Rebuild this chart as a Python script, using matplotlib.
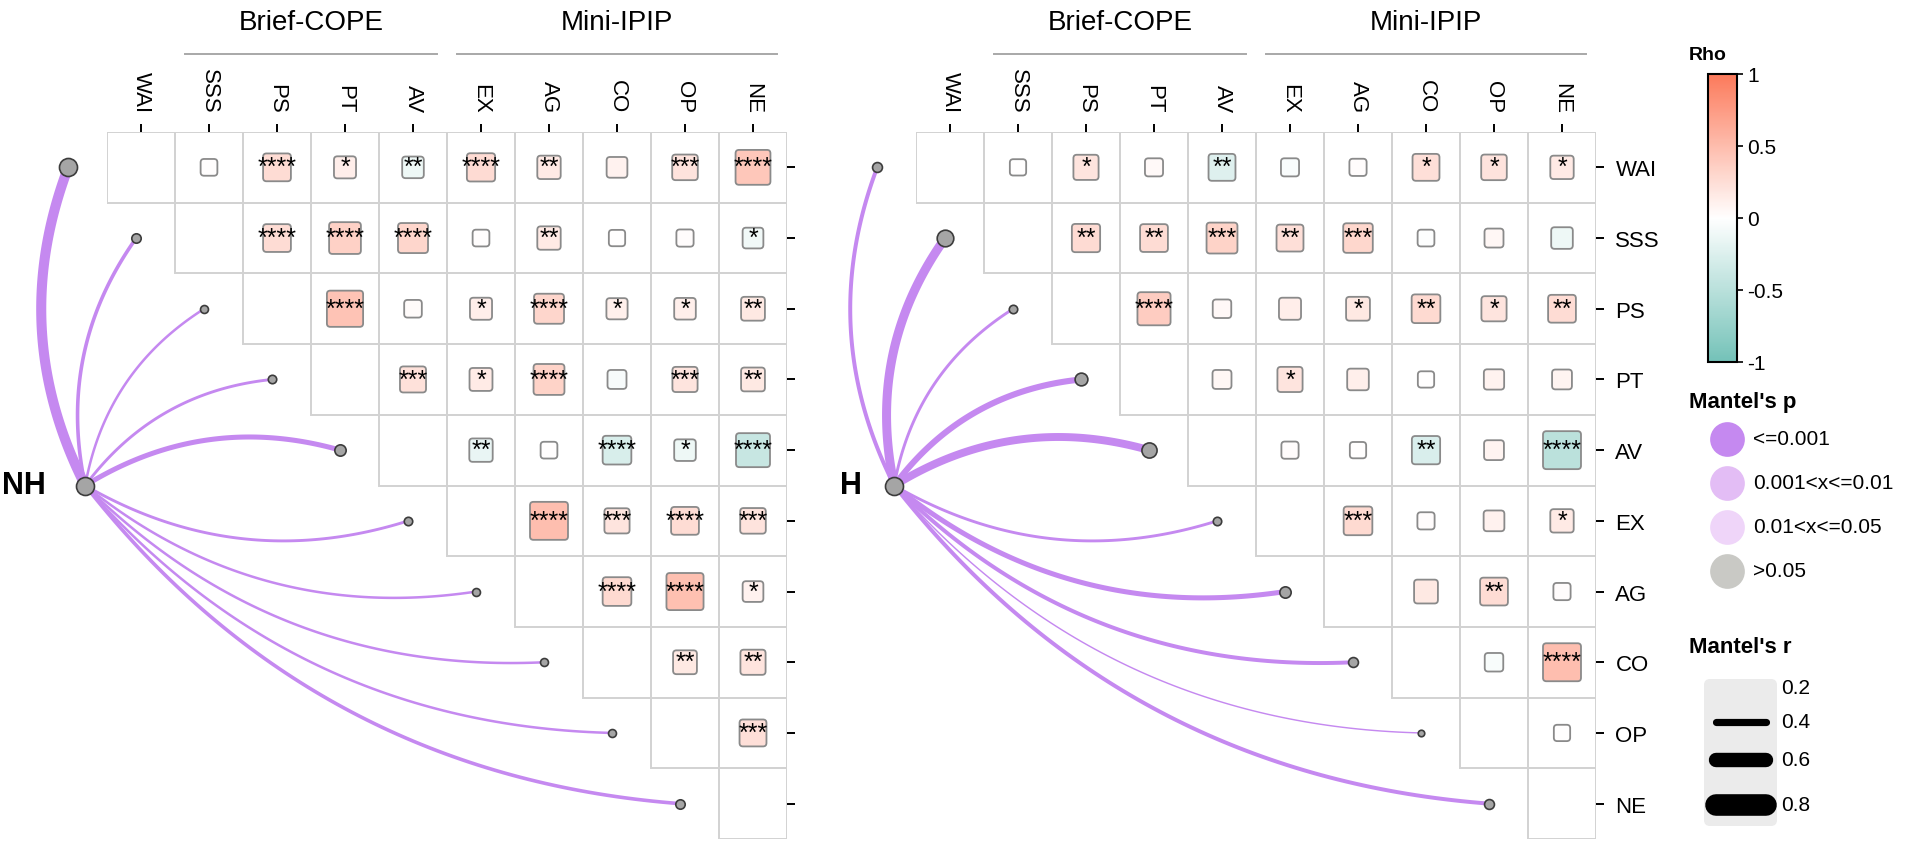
import numpy as np
import matplotlib.pyplot as plt
from matplotlib.colors import LinearSegmentedColormap, Normalize
from matplotlib.patches import Rectangle, FancyBboxPatch
import matplotlib.colorbar as mcolorbar

plt.rcParams['font.family'] = ['Liberation Sans', 'DejaVu Sans']

VARS = ["WAI", "SSS", "PS", "PT", "AV", "EX", "AG", "CO", "OP", "NE"]
GROUPS = [("Brief-COPE", 1, 4), ("Mini-IPIP", 5, 9)]

# upper triangle, row i holds columns i+1 .. 9
NH_RHO = [
    [0.01, 0.26, 0.13, -0.12, 0.27, 0.16, 0.10, 0.21, 0.42],
    [0.26, 0.35, 0.31, 0.01, 0.16, 0.00, 0.02, -0.10],
    [0.45, 0.03, 0.13, 0.31, 0.11, 0.12, 0.17],
    [0.22, 0.15, 0.33, -0.06, 0.20, 0.17],
    [-0.16, 0.01, -0.28, -0.12, -0.40],
    [0.49, 0.20, 0.26, 0.21],
    [0.28, 0.47, 0.10],
    [0.17, 0.20],
    [0.24],
]
NH_STARS = [
    ["", "****", "*", "**", "****", "**", "", "***", "****"],
    ["****", "****", "****", "", "**", "", "", "*"],
    ["****", "", "*", "****", "*", "*", "**"],
    ["***", "*", "****", "", "***", "**"],
    ["**", "", "****", "*", "****"],
    ["****", "***", "****", "***"],
    ["****", "****", "*"],
    ["**", "**"],
    ["***"],
]
H_RHO = [
    [0.00, 0.20, 0.04, -0.24, -0.04, 0.02, 0.24, 0.21, 0.16],
    [0.27, 0.26, 0.33, 0.24, 0.30, -0.01, 0.06, -0.12],
    [0.38, 0.05, 0.13, 0.17, 0.28, 0.20, 0.26],
    [0.06, 0.20, 0.12, 0.00, 0.09, 0.08],
    [0.02, 0.00, -0.27, 0.08, -0.49],
    [0.28, 0.02, 0.10, 0.16],
    [0.17, 0.26, 0.02],
    [-0.05, 0.49],
    [0.00],
]
H_STARS = [
    ["", "*", "", "**", "", "", "*", "*", "*"],
    ["**", "**", "***", "**", "***", "", "", ""],
    ["****", "", "", "*", "**", "*", "**"],
    ["", "*", "", "", "", ""],
    ["", "", "**", "", "****"],
    ["***", "", "", "*"],
    ["", "**", ""],
    ["", "****"],
    [""],
]

# Mantel test of each variable against group (NH / H)
NH_MANTEL_R = [0.48, 0.30, 0.27, 0.28, 0.34, 0.28, 0.27, 0.27, 0.27, 0.30]
NH_MANTEL_P = ["<=0.001"] * 10
H_MANTEL_R = [0.31, 0.45, 0.28, 0.37, 0.42, 0.28, 0.34, 0.31, 0.24, 0.31]
H_MANTEL_P = ["<=0.001"] * 10

P_LEVELS = ["<=0.001", "0.001<x<=0.01", "0.01<x<=0.05", ">0.05"]
P_COLORS = ["#C589F0", "#E3BDF5", "#EFD5F9", "#C9C9C5"]
R_LEVELS = [0.2, 0.4, 0.6, 0.8]

CMAP = LinearSegmentedColormap.from_list("rho", ["#74C2B8", "#FFFFFF", "#FC7A5B"])
NORM = Normalize(-1, 1)

FIG_W, FIG_H = 1908, 845
CELL_W, CELL_H = 68.0, 70.7
GRID_TOP = 133
NODE_POS = (-0.32, 5.0)


def r_to_px(r):
    # line width in pixels for a Mantel's r value
    return 36 * (r - 0.2)


def dot_px(r):
    return 48 * r - 5


fig = plt.figure(figsize=(FIG_W / 100, FIG_H / 100), dpi=100)

# pixel-space axes for the legends
leg = fig.add_axes([0, 0, 1, 1])
leg.set_xlim(0, FIG_W)
leg.set_ylim(FIG_H, 0)
leg.axis('off')


def draw_panel(left_px, rho_rows, star_rows, mantel_r, mantel_p, tag, tag_x, row_labels):
    n = len(VARS)
    ax = fig.add_axes([left_px / FIG_W, (FIG_H - GRID_TOP - n * CELL_H) / FIG_H,
                       n * CELL_W / FIG_W, n * CELL_H / FIG_H])
    ax.set_xlim(0, n)
    ax.set_ylim(n, 0)
    ax.patch.set_visible(False)
    for s in ax.spines.values():
        s.set_visible(False)
    ax.xaxis.tick_top()
    ax.set_xticks(np.arange(n) + 0.5)
    ax.set_xticklabels(VARS, rotation=-90, fontsize=16)
    ax.yaxis.tick_right()
    ax.set_yticks(np.arange(n) + 0.5)
    ax.set_yticklabels(VARS if row_labels else [], fontsize=16)
    ax.tick_params(length=6, width=1.4, pad=8)

    asp = CELL_H / CELL_W
    # grid + squares
    for i in range(n):
        for j in range(i, n):
            ax.add_patch(Rectangle((j, i), 1, 1, fill=False, ec='#D2D2D2', lw=1.4, zorder=1))
        if i == n - 1:
            continue
        for k, (r, st) in enumerate(zip(rho_rows[i], star_rows[i])):
            j = i + 1 + k
            side = 0.24 + 0.65 * abs(r)
            w, h = side, side / asp
            ax.add_patch(FancyBboxPatch((j + 0.5 - w / 2, i + 0.5 - h / 2), w, h,
                                        boxstyle="round,pad=0,rounding_size=0.05",
                                        mutation_aspect=1 / asp,
                                        fc=CMAP(NORM(r)), ec='#8A8A8A', lw=1.3, zorder=2))
            if st:
                ax.text(j + 0.5, i + 0.5, st, ha='center', va='center', fontsize=18, zorder=3)

    # group headers
    for name, c0, c1 in GROUPS:
        ax.plot([c0 + 0.15, c1 + 0.85], [-1.1, -1.1], color='#A8A8A8', lw=1.4, clip_on=False)
        ax.text((c0 + c1 + 1) / 2, -1.55, name, ha='center', va='center', fontsize=20)

    # mantel links
    nx, ny = NODE_POS
    for i in range(n):
        ex, ey = i - 0.57, i + 0.5
        p0 = np.array([nx, ny * asp])
        p1 = np.array([ex, ey * asp])
        d = p1 - p0
        sgn = 1 if ey < ny else -1
        ctrl = (p0 + p1) / 2 + sgn * 0.22 * np.array([d[1], -d[0]])
        t = np.linspace(0, 1, 80)[:, None]
        b = (1 - t) ** 2 * p0 + 2 * (1 - t) * t * ctrl + t ** 2 * p1
        col = P_COLORS[P_LEVELS.index(mantel_p[i])]
        ax.plot(b[:, 0], b[:, 1] / asp, color=col, lw=r_to_px(mantel_r[i]) * 0.72,
                solid_capstyle='butt', clip_on=False, zorder=4)
        ax.plot(ex, ey, 'o', ms=dot_px(mantel_r[i]) * 0.72, mfc='#A5A5A5', mec='#3C3C3C',
                mew=1.2, clip_on=False, zorder=5)
    ax.plot(nx, ny, 'o', ms=18 * 0.72, mfc='#A5A5A5', mec='#3C3C3C', mew=1.2,
            clip_on=False, zorder=6)
    ax.text(tag_x, ny, tag, ha='center', va='center', fontsize=22, fontweight='bold')
    return ax


draw_panel(107, NH_RHO, NH_STARS, NH_MANTEL_R, NH_MANTEL_P, "NH", -1.22, False)
draw_panel(916, H_RHO, H_STARS, H_MANTEL_R, H_MANTEL_P, "H", -0.95, True)

# colour bar
cax = fig.add_axes([1708 / FIG_W, (FIG_H - 363) / FIG_H, 29 / FIG_W, 288 / FIG_H])
cb = mcolorbar.ColorbarBase(cax, cmap=CMAP, norm=NORM, ticks=[-1, -0.5, 0, 0.5, 1])
cb.ax.set_yticklabels(["-1", "-0.5", "0", "0.5", "1"])
cb.ax.tick_params(labelsize=15, length=4, width=1.2)
cb.outline.set_linewidth(1.5)
leg.text(1689, 55, "Rho", fontsize=14, fontweight='bold', va='center')

# Mantel's p legend
leg.text(1689, 403, "Mantel's p", fontsize=16, fontweight='bold', va='center')
for k, (lab, col) in enumerate(zip(P_LEVELS, P_COLORS)):
    y = 440 + k * 44
    leg.plot(1727, y, 'o', ms=25, mfc=col, mec='none')
    leg.text(1753, y, lab, fontsize=15, va='center')

# Mantel's r legend
leg.text(1689, 648, "Mantel's r", fontsize=16, fontweight='bold', va='center')
leg.add_patch(FancyBboxPatch((1704, 680), 73, 147, boxstyle="round,pad=0,rounding_size=6",
                             fc='#EBEBEB', ec='none'))
for y, r in zip([689, 723, 761, 806], R_LEVELS):
    if r_to_px(r) > 0.5:
        leg.plot([1716, 1766], [y, y], color='black', lw=r_to_px(r) * 0.72,
                 solid_capstyle='round')
    leg.text(1781, y, f"{r:.1f}", fontsize=15, va='center')

fig.savefig("out.png", dpi=100)
